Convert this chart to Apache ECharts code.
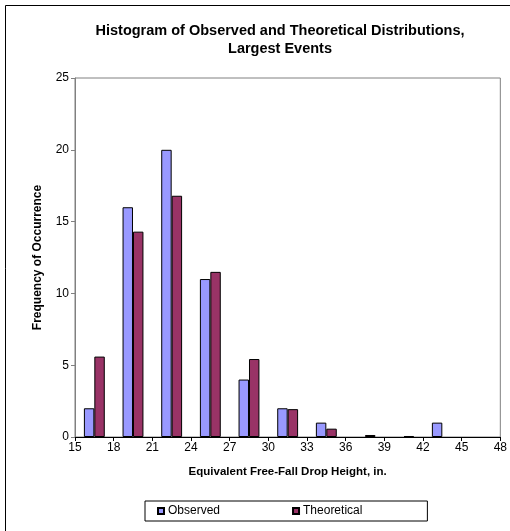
<!DOCTYPE html>
<html>
<head>
<meta charset="utf-8">
<script src="https://cdn.jsdelivr.net/npm/echarts@6/dist/echarts.min.js"></script>
<style>
html,body{margin:0;padding:0;background:#fff;}
#chart{width:510px;height:531px;}
</style>
</head>
<body>
<div id="chart"></div>
<script>
// Bins of width 3, from 15 to 48
const binCenters = ['16.5','19.5','22.5','25.5','28.5','31.5','34.5','37.5','40.5','43.5','46.5'];
const observed = [2, 16, 20, 11, 4, 2, 1, 0, 0, 1, 0];
const theoretical = [5.6, 14.3, 16.8, 11.5, 5.43, 1.94, 0.58, 0.14, 0.07, 0, 0];
const xTickMin = 15, xTickMax = 48, xTickStep = 3;
const yMin = 0, yMax = 25, yStep = 5;

const chart = echarts.init(document.getElementById('chart'), null, {renderer: 'canvas'});
const font = 'Liberation Sans, Arial, sans-serif';
const hideZero = v => (v === 0 ? null : v);
chart.setOption({
  backgroundColor: '#fff',
  animation: false,
  title: {
    text: 'Histogram of Observed and Theoretical Distributions,\nLargest Events',
    left: 275, top: 17, textAlign: 'center',
    textStyle: {fontFamily: font, fontSize: 14.5, fontWeight: 'bold', color: '#000', lineHeight: 18}
  },
  legend: {
    left: 145, top: 501,
    orient: 'horizontal',
    itemWidth: 6, itemHeight: 6, itemGap: 72,
    icon: 'rect',
    padding: [4, 65, 4, 12],
    borderColor: '#000', borderWidth: 1,
    textStyle: {fontFamily: font, fontSize: 12, color: '#000', padding: [0,0,0,-1]},
    data: ['Observed', 'Theoretical']
  },
  grid: {left: 75, right: 9, top: 78, bottom: 94, show: true, borderColor: '#808080', borderWidth: 1},
  xAxis: [
    {type: 'category', data: binCenters, show: false, boundaryGap: true},
    {type: 'value', min: xTickMin, max: xTickMax, interval: xTickStep, position: 'bottom',
     name: 'Equivalent Free-Fall Drop Height, in.', nameLocation: 'middle', nameGap: 29,
     nameTextStyle: {fontFamily: font, fontSize: 11.5, fontWeight: 'bold', color: '#000'},
     axisLine: {show: true, lineStyle: {color: '#000', width: 1}},
     axisTick: {show: true, length: 4, lineStyle: {color: '#000'}},
     axisLabel: {fontFamily: font, fontSize: 12, color: '#000', margin: 5},
     splitLine: {show: false}}
  ],
  yAxis: {
    type: 'value', min: yMin, max: yMax, interval: yStep,
    name: 'Frequency of Occurrence', nameLocation: 'middle', nameGap: 31, nameRotate: 90,
    nameTextStyle: {fontFamily: font, fontSize: 12, fontWeight: 'bold', color: '#000'},
    axisLine: {show: true, lineStyle: {color: '#808080', width: 1}},
    axisTick: {show: true, length: 4, lineStyle: {color: '#808080'}},
    axisLabel: {fontFamily: font, fontSize: 12, color: '#000', margin: 6},
    splitLine: {show: false}
  },
  series: [
    {name: 'Observed', type: 'bar', xAxisIndex: 0, data: observed.map(hideZero),
     barGap: '0%', barCategoryGap: '46%',
     itemStyle: {color: '#9999FF', borderColor: '#000', borderWidth: 1}},
    {name: 'Theoretical', type: 'bar', xAxisIndex: 0, data: theoretical.map(hideZero),
     barGap: '0%', barCategoryGap: '46%',
     itemStyle: {color: '#993366', borderColor: '#000', borderWidth: 1}}
  ],
  graphic: [
    {type: 'rect', shape: {x: 5.5, y: 5.5, width: 520, height: 540}, silent: true,
     style: {fill: 'none', stroke: '#000', lineWidth: 1}}
  ]
});
</script>
</body>
</html>
